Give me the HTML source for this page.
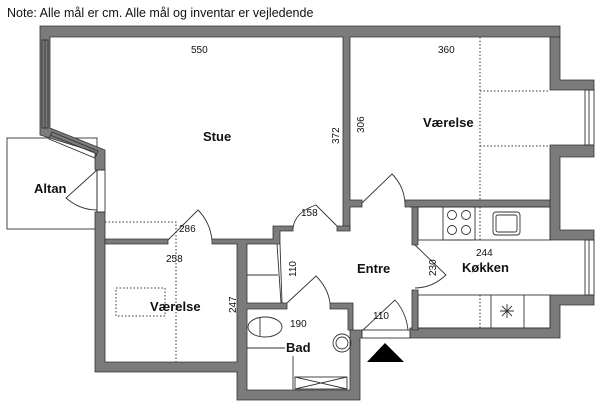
<!DOCTYPE html>
<html><head><meta charset="utf-8"><style>
html,body{margin:0;padding:0;background:#fff;}
svg{display:block;font-family:"Liberation Sans",sans-serif;}
.w{fill:#7b7b7b;stroke:#333;stroke-width:0.8;}
.l{fill:none;stroke:#333;stroke-width:0.9;}
.d{fill:none;stroke:#333;stroke-width:1;stroke-dasharray:1.5 2;}
.t{font-size:10px;fill:#111;}
.b{font-size:13px;font-weight:bold;fill:#111;}
</style></head><body>
<svg width="600" height="406" viewBox="0 0 600 406">
<text x="7" y="17" font-size="12.5" fill="#111">Note: Alle mål er cm. Alle mål og inventar er vejledende</text>
<!-- Altan -->
<rect x="7" y="138" width="90" height="91" class="l"/>
<!-- walls -->
<path class="w" d="M40,26 H560 V37 H350 V200 H362 V207 H350 V230 H343 V37 H50 V128 L105,150 V170 H95 V152 L40,135 Z"/>
<path class="w" d="M550,37 H560 V80 H594 V90 H550 Z"/>
<path class="w" d="M550,145 H594 V157 H560 V230 H594 V240 H550 Z"/>
<path class="w" d="M550,295 H594 V305 H560 V338 H410 V328 H550 Z"/>
<path class="w" d="M405,200 H550 V207 H405 Z"/>
<path class="w" d="M95,212 H105 V362 H237 V244 H212 V239 H273 V226 H293 V231 H280 V244 H247 V303 H287 V309 H247 V390 H350 V330 H362 V338 H360 V400 H237 V372 H95 Z"/>
<path class="w" d="M105,239 H168 V244 H105 Z"/>
<path class="w" d="M337,226 H350 V231 H337 Z"/>
<path class="w" d="M330,303 H353 V330 H348 V309 H330 Z"/>
<path class="w" d="M410,207 H418 V245 H412 V207 Z M412,290 H418 V330 H412 Z"/>
<!-- windows -->
<rect x="42" y="40" width="6" height="88" fill="#fff" class="l"/>
<line x1="45" y1="40" x2="45" y2="128" class="l"/>
<polygon points="52,132 98,151 95,158 49,139" fill="#fff" class="l"/>
<line x1="50" y1="135" x2="97" y2="154" class="l"/>
<rect x="97" y="170" width="8" height="42" fill="#fff" class="l"/>
<rect x="585" y="90" width="9" height="55" fill="#fff" class="l"/>
<line x1="589" y1="90" x2="589" y2="145" class="l"/>
<rect x="585" y="240" width="9" height="55" fill="#fff" class="l"/>
<line x1="589" y1="240" x2="589" y2="295" class="l"/>
<!-- entrance -->
<rect x="362" y="330" width="48" height="8" fill="#fff" class="l"/>
<polygon points="367,362 385,343 404,362" fill="#000"/>
<!-- doors -->
<path class="l" d="M97,170 L66,198 Q80,210 97,210"/>
<path class="l" d="M168,240 L198,210 Q210,222 212,240"/>
<path class="l" d="M293,228 Q295,212 316,205 L337,226"/>
<path class="l" d="M362,203 L392,174 Q404,186 405,203"/>
<path class="l" d="M277,244 L281,303 M280,244 L282,303"/>
<path class="l" d="M287,303 L316,276 Q328,288 330,303"/>
<path class="l" d="M415,245 L446,275 Q432,288 415,288"/>
<path class="l" d="M363,330 L395,300 Q406,312 408,330"/>
<!-- storage shelves -->
<line x1="247" y1="275" x2="278" y2="275" class="l"/>
<!-- kitchen -->
<rect x="418" y="207" width="132" height="33" fill="none" class="l"/>
<rect x="443" y="207" width="32" height="33" fill="none" class="l"/>
<circle cx="452" cy="215" r="4.5" class="l"/><circle cx="466" cy="215" r="4.5" class="l"/>
<circle cx="452" cy="230" r="4.5" class="l"/><circle cx="466" cy="230" r="4.5" class="l"/>
<line x1="480" y1="207" x2="480" y2="240" class="d"/>
<rect x="493" y="212" width="27" height="23" rx="3" class="l"/>
<rect x="496" y="215" width="21" height="17" rx="2" class="l"/>
<rect x="418" y="295" width="132" height="33" fill="none" class="l"/>
<line x1="480" y1="295" x2="480" y2="328" class="d"/>
<line x1="491" y1="295" x2="491" y2="328" class="l"/>
<line x1="524" y1="295" x2="524" y2="328" class="l"/>
<path class="l" d="M500,311 H514 M507,304 V318 M502,306 L512,316 M512,306 L502,316"/>
<!-- bathroom -->
<ellipse cx="265" cy="327" rx="17" ry="10" class="l"/>
<line x1="260" y1="318" x2="260" y2="336" class="l"/>
<line x1="247" y1="348" x2="285" y2="348" class="l"/>
<line x1="293" y1="356" x2="293" y2="390" class="l"/>
<rect x="295" y="377" width="52" height="12" class="l"/>
<path class="l" d="M295,377 L347,389 M347,377 L295,389"/>
<circle cx="342" cy="343" r="9" class="l"/>
<circle cx="342" cy="343" r="6" class="l"/>
<!-- dotted -->
<path class="d" d="M105,222 H176 V362"/>
<rect x="116" y="288" width="49" height="28" class="d"/>
<path class="d" d="M480,37 V200 M480,91 H550 M480,146 H550"/>
<!-- labels -->
<text x="191" y="53" class="t">550</text>
<text x="438" y="53" class="t">360</text>
<text x="203" y="141" class="b">Stue</text>
<text x="423" y="127" class="b">Værelse</text>
<text x="34" y="193" class="b">Altan</text>
<text x="179" y="232" class="t">286</text>
<text x="166" y="262" class="t">258</text>
<text x="150" y="311" class="b">Værelse</text>
<text x="301" y="216" class="t">158</text>
<text x="357" y="273" class="b">Entre</text>
<text x="462" y="272" class="b">Køkken</text>
<text x="476" y="256" class="t">244</text>
<text x="290" y="327" class="t">190</text>
<text x="286" y="352" class="b">Bad</text>
<text x="373" y="319" class="t">110</text>
<text transform="translate(339,144) rotate(-90)" class="t">372</text>
<text transform="translate(364,133) rotate(-90)" class="t">306</text>
<text transform="translate(236,313) rotate(-90)" class="t">247</text>
<text transform="translate(296,277) rotate(-90)" class="t">110</text>
<text transform="translate(436,276) rotate(-90)" class="t">230</text>
</svg>
</body></html>
